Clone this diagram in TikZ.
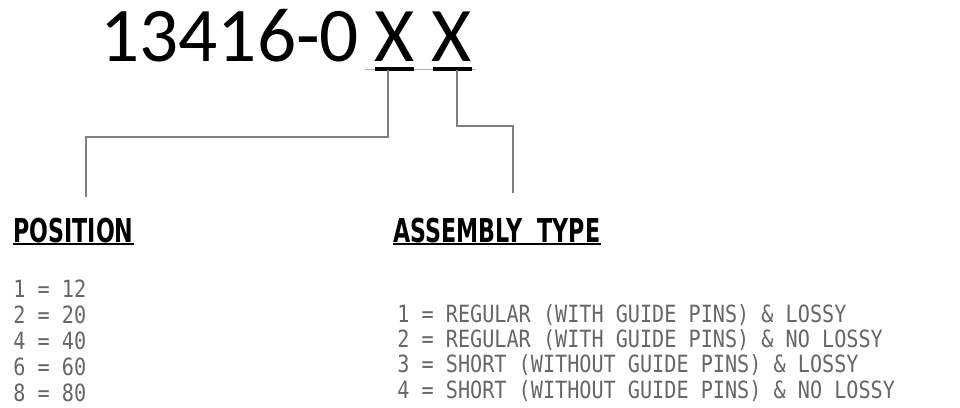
\documentclass[tikz,border=0pt]{standalone}
\usepackage{fontspec}
\setmainfont{Carlito}
\newfontfamily\headfont[FakeStretch=0.675]{DejaVu Sans}
\newfontfamily\cadfont[FakeStretch=0.85]{DejaVu Sans Mono}
\usetikzlibrary{positioning}

\begin{document}
\begin{tikzpicture}[x=0.02cm,y=-0.02cm,
 code/.style={inner sep=0pt,anchor=base,font=\fontsize{44}{44}\selectfont},
 head/.style={inner sep=0pt,anchor=base west,font=\headfont\bfseries\fontsize{18.7}{20}\selectfont},
 entry/.style={inner sep=0pt,anchor=base west,text=black!60,font=\cadfont\fontsize{13.5}{15}\selectfont},
 bar/.style={line width=2.3pt},
 lead/.style={draw=black!50,line width=0.6pt},
 uline/.style={line width=1.1pt}]
\useasboundingbox (0,0) rectangle (960,407);
% part number
\node[code,anchor=base west] (num) at (100,61) {13416-0};
\node[code] (xpos) at (395,61) {X};
\node[code] (xtype) at (452,61) {X};
\draw[black!30,line width=0.3pt] (365,69) -- (476,69);
\draw[bar] (375,69) -- (414,69);
\draw[bar] (433,69) -- (472,69);
% leaders
\coordinate (postap) at (388,70);
\coordinate (typetap) at (457,70);
\coordinate (posend) at (86,197);
\coordinate (typeend) at (513,193);
\draw[lead] (postap) -- ++(0,67) -| (posend);
\draw[lead] (typetap) -- ++(0,56) -| (typeend);
% headings
\node[head] (pos) at (13,242) {POSITION};
\node[head] (asm) at (393,242) {ASSEMBLY\ \ TYPE};
\draw[uline] ([yshift=-1.3pt]pos.base west) -- ([yshift=-1.3pt]pos.base east);
\draw[uline] ([yshift=-1.3pt]asm.base west) -- ([yshift=-1.3pt]asm.base east);
% tables
\foreach \k/\v [count=\i] in {1/12,2/20,4/40,6/60,8/80}
  \node[entry] (pos\i) at (13,{271+26*\i}) {\k\ =\ \v};
\foreach \t [count=\i] in {REGULAR (WITH GUIDE PINS) \& LOSSY,
  REGULAR (WITH GUIDE PINS) \& NO LOSSY,
  SHORT (WITHOUT GUIDE PINS) \& LOSSY,
  SHORT (WITHOUT GUIDE PINS) \& NO LOSSY}
  \node[entry] (asm\i) at (397,{297+25.3*\i}) {\i\ =\ \t};
\end{tikzpicture}
\end{document}
